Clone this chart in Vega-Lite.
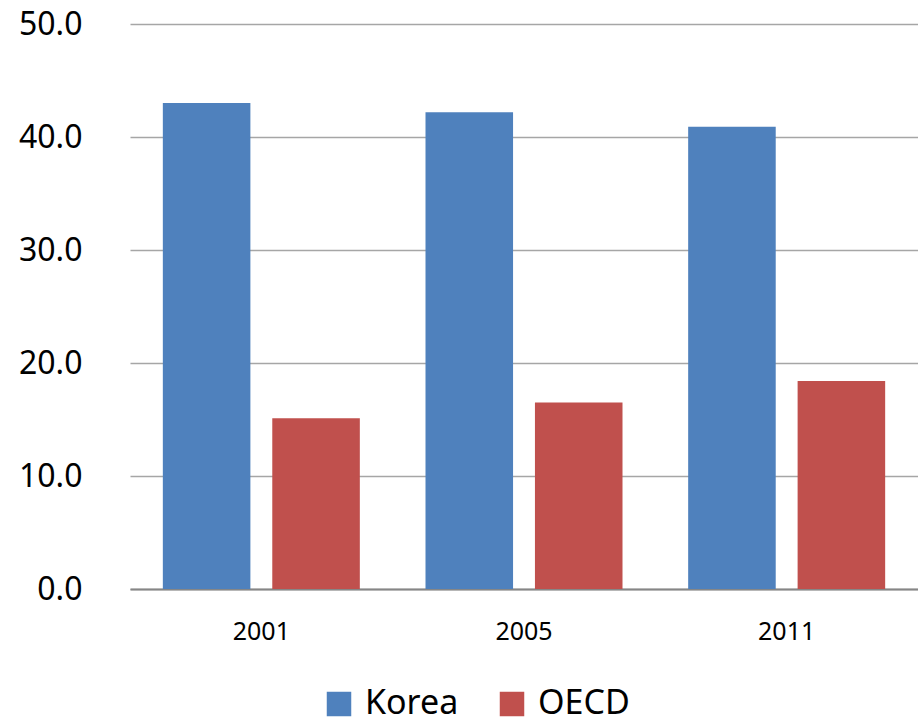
{
  "$schema": "https://vega.github.io/schema/vega-lite/v6.json",
  "autosize": {"type": "none"},
  "width": 788,
  "height": 565,
  "padding": {"left": 130, "top": 24, "right": 0, "bottom": 136},
  "background": "white",
  "config": {
    "view": {"stroke": null},
    "font": "Noto Sans"
  },
  "data": {
    "values": [
      {"year": "2001", "series": "Korea", "value": 43.0},
      {"year": "2001", "series": "OECD", "value": 15.1},
      {"year": "2005", "series": "Korea", "value": 42.2},
      {"year": "2005", "series": "OECD", "value": 16.5},
      {"year": "2011", "series": "Korea", "value": 40.9},
      {"year": "2011", "series": "OECD", "value": 18.4}
    ]
  },
  "mark": {"type": "bar"},
  "encoding": {
    "x": {
      "field": "year",
      "type": "nominal",
      "scale": {"paddingInner": 0.25, "paddingOuter": 0.125},
      "axis": {
        "title": null,
        "labelAngle": 0,
        "labelFontSize": 25,
        "labelColor": "#000000",
        "labelPadding": 30,
        "ticks": false,
        "domainColor": "#868686",
        "domainWidth": 2,
        "grid": false
      }
    },
    "xOffset": {
      "field": "series",
      "type": "nominal",
      "scale": {"paddingInner": 0.2, "paddingOuter": 0}
    },
    "y": {
      "field": "value",
      "type": "quantitative",
      "scale": {"domain": [0, 50], "nice": false},
      "axis": {
        "title": null,
        "values": [0, 10, 20, 30, 40, 50],
        "format": ".1f",
        "labelFontSize": 32,
        "labelColor": "#000000",
        "labelPadding": 48,
        "ticks": false,
        "domain": false,
        "gridColor": "#A6A6A6",
        "gridWidth": 1.5
      }
    },
    "color": {
      "field": "series",
      "type": "nominal",
      "scale": {"domain": ["Korea", "OECD"], "range": ["#4F81BD", "#C0504D"]},
      "legend": {
        "title": null,
        "orient": "none",
        "direction": "horizontal",
        "legendX": 192,
        "legendY": 663,
        "symbolType": "square",
        "symbolSize": 600,
        "symbolStrokeWidth": 0,
        "symbolOpacity": 1,
        "labelFontSize": 34,
        "labelColor": "#000000",
        "labelOffset": 9,
        "columnPadding": 36
      }
    }
  }
}
